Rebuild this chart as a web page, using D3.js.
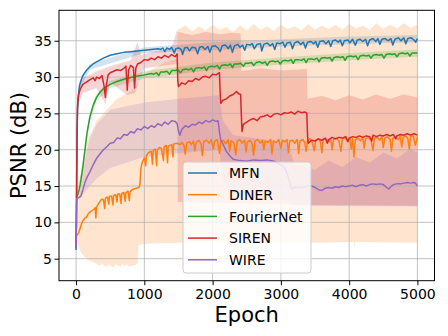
<!DOCTYPE html>
<html lang="en">
<head>
<meta charset="utf-8">
<title>PSNR vs Epoch</title>
<script src="https://cdn.jsdelivr.net/npm/d3@7"></script>
<style>
  body { margin: 0; background: #fff; }
  text { font-family: "DejaVu Sans", sans-serif; }
</style>
</head>
<body>
<script>

// ---- data ----
var seriesNames = ["MFN", "DINER", "FourierNet", "SIREN", "WIRE"];
var seriesColors = ["#1f77b4", "#ff7f0e", "#2ca02c", "#d62728", "#9467bd"];
var xTicks = [0, 1000, 2000, 3000, 4000, 5000];
var yTicks = [5, 10, 15, 20, 25, 30, 35];

// mean curves: [epoch, PSNR]
var mfnMean = [[0,6.2],[5,10],[10,18],[15,23],[20,25.5],[30,27],[40,28],[50,28.8],[75,29.6],[100,30.2],[150,30.9],[200,31.4],[250,31.8],[300,32.1],[400,32.6],[500,33.0],[600,33.2],[700,33.4],[800,33.5],[900,33.6],[1000,33.7],[1100,33.8],[1200,33.9],[1240,33.8],[1270,34.0],[1300,33.5],[1330,34.0],[1370,33.8],[1400,34.1],[1440,33.3],[1460,33.9],[1500,34.0],[1540,33.8],[1560,33.1],[1590,34.0],[1630,34.1],[1660,33.6],[1700,34.1],[1750,34.0],[1780,33.2],[1810,34.1],[1850,34.2],[1890,33.8],[1930,34.2],[1960,33.4],[1990,34.2],[2040,34.3],[2080,34.0],[2110,33.5],[2140,34.3],[2190,34.4],[2230,33.9],[2260,34.4],[2290,33.4],[2320,34.3],[2370,34.5],[2400,34.1],[2440,34.4],[2470,33.7],[2500,34.5],[2550,34.4],[2580,34.6],[2610,33.9],[2650,34.5],[2700,34.6],[2720,33.6],[2750,34.5],[2800,34.7],[2840,34.3],[2880,34.6],[2910,33.8],[2940,34.7],[2990,34.6],[3030,34.8],[3060,34.1],[3090,34.7],[3140,34.8],[3170,33.9],[3200,34.7],[3250,34.9],[3290,34.5],[3330,34.8],[3360,34.0],[3390,34.8],[3440,34.9],[3480,34.6],[3510,34.9],[3540,34.1],[3570,34.9],[3620,35.0],[3660,34.6],[3700,35.0],[3730,34.2],[3760,35.0],[3800,35.1],[3840,34.8],[3870,35.1],[3900,34.3],[3930,35.0],[3980,35.1],[4010,34.7],[4050,35.2],[4090,34.4],[4120,35.1],[4160,35.2],[4200,34.9],[4240,35.2],[4270,34.3],[4300,35.1],[4350,35.3],[4390,34.9],[4420,35.3],[4450,34.5],[4480,35.2],[4530,35.3],[4570,35.0],[4610,35.3],[4640,34.4],[4670,35.2],[4720,35.4],[4760,35.0],[4800,35.4],[4830,34.6],[4860,35.3],[4910,35.4],[4950,35.1],[4975,34.8],[5000,35.3]];

var dinerMean = [[0,8.0],[20,8.3],[40,8.6],[60,9.2],[80,9.8],[100,10.2],[130,10.6],[150,10.7],[180,11.2],[200,11.4],[230,11.6],[260,11.8],[280,12.0],[290,10.6],[300,12.1],[330,12.6],[360,13.0],[380,13.2],[400,13.1],[420,11.9],[430,13.3],[460,13.5],[480,12.5],[490,13.6],[520,13.6],[540,12.4],[550,13.7],[580,13.8],[600,12.8],[610,13.9],[640,13.9],[660,12.6],[670,14.0],[700,14.1],[720,12.9],[730,14.1],[760,14.3],[780,13.0],[790,14.2],[820,14.5],[850,14.6],[880,14.7],[920,14.8],[935,15.2],[950,17.5],[970,18.3],[1000,18.9],[1020,17.8],[1030,19.2],[1060,19.6],[1100,19.8],[1120,18.0],[1130,19.9],[1160,20.1],[1180,17.8],[1190,20.0],[1220,20.3],[1250,20.2],[1280,18.5],[1290,20.4],[1320,20.6],[1340,18.2],[1350,20.5],[1400,20.7],[1420,19.0],[1430,20.8],[1480,20.9],[1520,20.7],[1550,21.0],[1580,20.6],[1600,19.4],[1620,20.9],[1660,21.1],[1690,20.7],[1720,21.2],[1740,19.9],[1760,21.0],[1800,21.3],[1830,20.8],[1850,19.2],[1870,21.1],[1910,21.3],[1950,20.9],[1980,21.4],[2010,20.1],[2030,21.2],[2070,21.4],[2100,19.5],[2120,21.1],[2160,21.3],[2190,20.8],[2230,21.4],[2250,19.8],[2270,21.2],[2310,21.0],[2340,19.3],[2360,21.2],[2400,21.4],[2430,20.9],[2470,21.3],[2490,19.7],[2510,21.1],[2550,21.3],[2580,20.8],[2600,19.2],[2620,21.2],[2660,21.4],[2700,20.9],[2730,21.3],[2750,20.0],[2770,21.2],[2810,21.0],[2850,21.4],[2870,19.4],[2890,21.2],[2930,21.0],[2970,21.4],[3000,20.2],[3020,21.3],[3060,21.1],[3090,21.4],[3110,19.6],[3130,21.2],[3170,21.3],[3200,20.9],[3240,21.4],[3260,19.5],[3280,21.2],[3320,21.4],[3350,21.0],[3370,19.8],[3390,21.3],[3430,21.5],[3460,21.0],[3490,19.9],[3510,21.3],[3550,21.5],[3580,21.1],[3600,19.6],[3620,21.4],[3660,21.5],[3700,21.1],[3730,21.5],[3750,20.0],[3770,21.4],[3810,21.6],[3850,21.2],[3880,19.8],[3900,21.5],[3940,21.6],[3980,21.2],[4010,21.6],[4030,20.1],[4050,21.5],[4070,19.0],[4090,21.4],[4130,21.6],[4170,21.2],[4200,21.7],[4220,20.2],[4240,21.5],[4280,21.7],[4320,21.3],[4350,19.9],[4370,21.6],[4410,21.7],[4450,21.3],[4480,21.8],[4500,20.3],[4520,21.6],[4560,21.8],[4600,21.4],[4620,19.8],[4640,21.6],[4680,21.8],[4720,21.4],[4750,21.9],[4770,20.4],[4790,21.7],[4830,21.9],[4860,21.5],[4880,20.1],[4900,21.8],[4940,21.9],[4970,20.6],[5000,21.8]];

var fourierMean = [[0,13.5],[20,13.7],[40,14.3],[60,15.2],[80,16.4],[100,17.7],[130,20],[160,22.3],[200,24.4],[250,26.1],[300,27.2],[350,27.9],[400,28.4],[500,29.0],[600,29.4],[700,29.7],[800,29.95],[900,30.15],[1000,30.3],[1050,30.4],[1100,30.5],[1140,30.4],[1180,30.6],[1210,30.2],[1240,30.7],[1290,30.7],[1330,30.8],[1370,30.4],[1400,30.9],[1450,30.9],[1490,31.0],[1530,30.6],[1560,31.0],[1610,31.1],[1650,31.0],[1690,31.2],[1720,30.7],[1750,31.2],[1800,31.3],[1840,31.2],[1880,31.4],[1910,30.9],[1940,31.4],[1990,31.5],[2030,31.4],[2070,31.6],[2100,31.1],[2130,31.6],[2180,31.7],[2220,31.6],[2260,31.8],[2290,31.3],[2320,31.8],[2370,31.8],[2410,31.9],[2450,31.5],[2480,31.9],[2530,31.9],[2570,32.0],[2600,31.6],[2640,32.0],[2690,32.1],[2730,31.9],[2770,32.1],[2800,31.6],[2830,32.1],[2880,32.2],[2920,32.1],[2960,32.2],[2990,31.8],[3020,32.2],[3070,32.3],[3110,32.2],[3150,32.4],[3180,31.9],[3210,32.4],[3260,32.4],[3300,32.3],[3340,32.5],[3370,32.0],[3400,32.5],[3450,32.5],[3490,32.4],[3530,32.6],[3560,32.1],[3590,32.6],[3640,32.7],[3680,32.6],[3720,32.7],[3750,32.2],[3780,32.7],[3830,32.8],[3870,32.7],[3910,32.8],[3940,32.3],[3970,32.8],[4020,32.9],[4060,32.8],[4100,32.9],[4130,32.4],[4160,32.9],[4210,33.0],[4250,32.9],[4290,33.0],[4320,32.6],[4350,33.0],[4400,33.1],[4440,33.0],[4480,33.1],[4510,32.6],[4540,33.1],[4590,33.2],[4630,33.1],[4670,33.2],[4700,32.8],[4730,33.2],[4780,33.3],[4820,33.2],[4860,33.3],[4890,32.9],[4920,33.3],[4970,33.3],[5000,33.3]];

var sirenMean = [[0,6.5],[8,13],[15,22],[22,26],[35,27.5],[60,28.3],[100,29],[150,29.3],[200,29.6],[250,29.9],[280,29.5],[300,30.0],[340,29.8],[380,30.2],[410,28.8],[430,27.2],[445,29.0],[470,30.3],[500,30.6],[550,30.8],[600,31.0],[650,30.9],[700,31.2],[730,31.5],[750,28.2],[770,31.0],[800,31.6],[840,31.3],[857,28.5],[875,31.2],[900,31.8],[950,32.0],[1000,32.4],[1050,32.3],[1100,32.6],[1150,32.4],[1200,32.8],[1250,32.6],[1300,33.0],[1350,32.7],[1400,33.1],[1450,32.8],[1480,33.2],[1490,29.5],[1500,28.7],[1550,29.2],[1600,29.0],[1650,29.5],[1700,29.4],[1750,29.8],[1800,29.6],[1850,30.0],[1900,30.1],[1950,29.9],[2000,30.4],[2050,30.3],[2100,30.6],[2110,28],[2120,26.4],[2150,26.8],[2200,27.0],[2250,27.4],[2300,27.6],[2350,28.0],[2380,27.7],[2410,27.6],[2420,25],[2430,22.5],[2450,23.5],[2500,23.8],[2550,24.1],[2600,24.3],[2650,24.0],[2700,24.5],[2750,24.6],[2800,24.8],[2850,24.5],[2900,24.9],[2950,25.0],[3000,24.8],[3050,25.1],[3100,25.0],[3150,25.2],[3200,24.9],[3250,25.3],[3300,25.1],[3350,25.2],[3380,25.0],[3390,22],[3400,20.9],[3450,21.3],[3500,21.2],[3550,21.5],[3600,21.3],[3650,21.6],[3680,20.9],[3700,21.4],[3750,21.7],[3800,21.5],[3850,21.7],[3900,21.6],[3950,21.8],[3980,21.1],[4000,21.6],[4050,21.8],[4100,21.7],[4150,21.9],[4200,21.7],[4250,21.9],[4300,21.8],[4330,21.2],[4350,22.0],[4400,21.8],[4450,22.0],[4500,21.9],[4550,22.1],[4600,21.9],[4650,22.1],[4680,21.5],[4700,21.9],[4750,22.1],[4800,22.0],[4850,22.2],[4900,22.0],[4950,22.2],[5000,22.0]];

var wireMean = [[0,6.5],[5,10],[10,13.3],[40,13.4],[70,13.6],[100,14.5],[130,15.5],[160,16.2],[200,16.9],[250,17.9],[300,18.8],[350,19.4],[400,20.0],[450,20.4],[500,20.9],[550,21.0],[600,21.6],[650,21.5],[700,22.1],[750,22.0],[800,22.5],[850,22.3],[900,22.9],[950,22.7],[1000,23.2],[1050,22.9],[1100,23.3],[1150,23.1],[1200,23.6],[1250,23.3],[1300,23.8],[1350,23.5],[1400,24.0],[1450,23.9],[1480,23.6],[1500,22.6],[1520,22.0],[1550,22.8],[1600,23.3],[1650,23.1],[1700,23.5],[1750,23.4],[1800,23.8],[1850,23.6],[1900,24.0],[1950,23.8],[2000,24.1],[2050,23.9],[2080,24.0],[2100,22.5],[2120,21.3],[2150,20.8],[2200,19.8],[2250,19.2],[2300,18.7],[2400,18.5],[2500,18.4],[2600,18.6],[2700,18.5],[2800,18.6],[2900,18.4],[3000,17.9],[3050,17.6],[3100,16.5],[3130,15.5],[3160,14.6],[3200,14.8],[3300,14.8],[3400,15.0],[3450,15.0],[3500,14.8],[3550,14.5],[3600,14.4],[3650,14.7],[3700,14.8],[3750,14.7],[3800,14.9],[3850,14.8],[3900,15.0],[3950,14.9],[4000,15.0],[4050,15.1],[4100,14.9],[4150,15.1],[4200,15.2],[4250,15.0],[4300,15.2],[4350,15.3],[4400,15.2],[4450,15.3],[4500,15.2],[4550,14.8],[4580,14.6],[4620,15.0],[4650,15.2],[4700,15.3],[4750,15.3],[4800,15.4],[4850,15.5],[4900,15.4],[4950,15.5],[4980,15.3],[5000,15.0]];

// shaded ranges: lower and upper edges, [epoch, PSNR]
var mfnLow = [[0,6.0],[10,17],[20,24.8],[50,28.3],[200,31.0],[1000,33.3],[2000,33.7],[3000,34.2],[4000,34.5],[5000,34.8]];
var mfnHigh = [[0,6.4],[10,19],[20,26.2],[50,29.3],[200,31.8],[1000,34.1],[2000,34.8],[3000,35.2],[4000,35.6],[5000,35.8]];

var dinerLow = [[0,7.9],[20,7.2],[50,6.3],[80,5.8],[120,5.3],[160,5.0],[200,4.7],[250,4.5],[300,4.3],[350,4.0],[380,4.4],[400,4.1],[450,3.9],[480,4.3],[500,4.0],[550,3.8],[580,4.3],[600,4.1],[650,3.9],[680,4.4],[700,4.0],[750,4.2],[780,3.9],[800,4.0],[850,4.1],[900,4.3],[915,6.8],[960,7.0],[1100,7.1],[1500,7.2],[2500,7.3],[3500,7.2],[4070,7.3],[4080,6.5],[4090,7.3],[5000,7.2]];
var dinerHigh = [[0,8.1],[20,10],[50,14],[100,18],[150,20.5],[200,22],[300,24],[400,25],[500,26],[600,27],[700,27.5],[800,28],[900,29],[950,30],[1000,30.5],[1100,31],[1200,31.5],[1300,32],[1400,32.3],[1480,32.5],[1490,36.5],[1600,37.1],[1700,36.3],[1800,37.0],[1900,36.4],[2000,37.2],[2100,36.5],[2200,36.9],[2300,36.2],[2400,37.1],[2500,36.4],[2600,37.3],[2700,36.5],[2800,37.0],[2900,36.3],[3000,37.2],[3100,36.6],[3200,37.0],[3300,36.4],[3400,37.3],[3500,36.5],[3600,37.1],[3700,36.6],[3800,37.2],[3900,36.5],[4000,37.3],[4100,36.7],[4200,37.1],[4300,36.5],[4400,37.4],[4500,36.6],[4600,37.2],[4700,36.7],[4800,37.4],[4900,36.8],[5000,37.2]];

var fourierLow = [[0,13.3],[100,17.2],[200,23.8],[300,26.7],[500,28.5],[1000,29.8],[2000,31.0],[3000,31.7],[4000,32.3],[5000,32.8]];
var fourierHigh = [[0,13.7],[100,18.2],[200,25.0],[300,27.7],[500,29.5],[1000,30.8],[2000,32.0],[3000,32.7],[4000,33.3],[5000,33.8]];

var sirenLow = [[0,6.0],[10,12],[20,22],[40,26.5],[100,27.8],[300,28.5],[430,26.3],[500,29.3],[750,27.5],[860,27.8],[1000,31.2],[1480,31.8],[1490,12.8],[2500,12.6],[3500,12.4],[5000,12.3]];
var sirenHigh = [[0,7],[10,16],[20,26.5],[40,28.5],[100,29.8],[300,30.8],[500,31.5],[800,32.3],[900,34.8],[950,33],[1000,33.2],[1200,33.6],[1400,34.0],[1480,36.5],[1490,36.2],[1700,35.8],[1900,36.2],[2100,35.9],[2300,36.1],[2410,36.0],[2420,30.8],[2700,31.2],[3000,30.9],[3380,31.1],[3390,27.0],[3600,27.4],[3800,26.8],[4000,27.5],[4200,26.9],[4400,27.6],[4600,27.0],[4800,27.6],[5000,27.2]];

var wireLow = [[0,6.3],[10,13],[60,13.2],[100,13.8],[200,15],[300,16],[500,17.5],[1000,19],[1500,19.5],[2100,20],[2150,16],[2300,14],[3100,13],[3200,12.3],[5000,12.2]];
var wireHigh = [[0,6.7],[10,13.6],[60,14.8],[100,17.5],[200,21.5],[300,23.5],[500,25.5],[1000,26.5],[1500,27],[2100,27.5],[2150,24],[2300,22],[3100,21],[3200,18.0],[3500,17.2],[3700,18.5],[3900,17.6],[4100,19.0],[4300,18.2],[4500,19.6],[4700,18.8],[4900,20.2],[5000,19.5]];

var means = [mfnMean, dinerMean, fourierMean, sirenMean, wireMean];
var lows = [mfnLow, dinerLow, fourierLow, sirenLow, wireLow];
var highs = [mfnHigh, dinerHigh, fourierHigh, sirenHigh, wireHigh];

// ---- layout ----
var w = 448, h = 336;
var padL = 59, padR = 434.5, padT = 10.3, padB = 280.7;

var svg = d3.select("body").append("svg")
  .attr("width", w).attr("height", h);

var x = d3.scaleLinear().domain([-250, 5250]).range([padL, padR]);
var y = d3.scaleLinear().domain([1.97, 39.19]).range([padB, padT]);

svg.append("clipPath").attr("id", "plotclip")
  .append("rect").attr("x", padL).attr("y", padT)
  .attr("width", padR - padL).attr("height", padB - padT);

var line = d3.line()
  .x(function(d){ return x(d[0]); })
  .y(function(d){ return y(d[1]); });

var plot = svg.append("g").attr("clip-path", "url(#plotclip)");

// shaded bands first (below everything)
for (var i = 0; i < seriesNames.length; i++) {
  var poly = highs[i].concat(lows[i].slice().reverse());
  plot.append("path")
    .attr("d", line(poly) + "Z")
    .attr("fill", seriesColors[i])
    .attr("fill-opacity", 0.2)
    .attr("stroke", "none");
}

// grid
var grid = svg.append("g");
xTicks.forEach(function(t){
  grid.append("line")
    .attr("x1", x(t)).attr("x2", x(t)).attr("y1", padT).attr("y2", padB)
    .attr("stroke", "#b0b0b0").attr("stroke-width", 0.9).attr("stroke-opacity", 0.85);
});
yTicks.forEach(function(t){
  grid.append("line")
    .attr("x1", padL).attr("x2", padR).attr("y1", y(t)).attr("y2", y(t))
    .attr("stroke", "#b0b0b0").attr("stroke-width", 0.9).attr("stroke-opacity", 0.85);
});

// mean lines
var lines = svg.append("g").attr("clip-path", "url(#plotclip)");
for (var j = 0; j < seriesNames.length; j++) {
  lines.append("path")
    .attr("d", line(means[j]))
    .attr("fill", "none")
    .attr("stroke", seriesColors[j])
    .attr("stroke-width", 1.5)
    .attr("stroke-linejoin", "round");
}

// axes
var xAxis = d3.axisBottom(x).tickValues(xTicks).tickSize(4.5).tickPadding(4).tickFormat(d3.format("d"));
var yAxis = d3.axisLeft(y).tickValues(yTicks).tickSize(4.5).tickPadding(2.5);

var gx = svg.append("g").attr("transform", "translate(0," + padB + ")").call(xAxis);
var gy = svg.append("g").attr("transform", "translate(" + padL + ",0)").call(yAxis);
[gx, gy].forEach(function(g){
  g.select(".domain").remove();
  g.selectAll("line").attr("stroke", "#000").attr("stroke-width", 1);
  g.selectAll("text").attr("font-size", "14px").attr("fill", "#000")
    .attr("font-family", "DejaVu Sans, sans-serif");
});

// frame
svg.append("rect")
  .attr("x", padL).attr("y", padT)
  .attr("width", padR - padL).attr("height", padB - padT)
  .attr("fill", "none").attr("stroke", "#000").attr("stroke-width", 1);

// axis labels
svg.append("text")
  .attr("x", (padL + padR) / 2).attr("y", 322)
  .attr("text-anchor", "middle").attr("font-size", "21px")
  .text("Epoch");
svg.append("text")
  .attr("transform", "translate(26," + ((padT + padB) / 2) + ") rotate(-90)")
  .attr("text-anchor", "middle").attr("font-size", "21px")
  .text("PSNR (dB)");

// legend
var legend = svg.append("g");
legend.append("rect")
  .attr("x", 183).attr("y", 162).attr("width", 128).attr("height", 111)
  .attr("rx", 3).attr("ry", 3)
  .attr("fill", "#fff").attr("fill-opacity", 0.8)
  .attr("stroke", "#cccccc").attr("stroke-width", 1);
seriesNames.forEach(function(name, k){
  var ry = 173 + k * 21.7;
  legend.append("line")
    .attr("x1", 188).attr("x2", 217).attr("y1", ry).attr("y2", ry)
    .attr("stroke", seriesColors[k]).attr("stroke-width", 1.5);
  legend.append("text")
    .attr("x", 229).attr("y", ry + 5.2)
    .attr("font-size", "14px")
    .text(name);
});

</script>
</body>
</html>
